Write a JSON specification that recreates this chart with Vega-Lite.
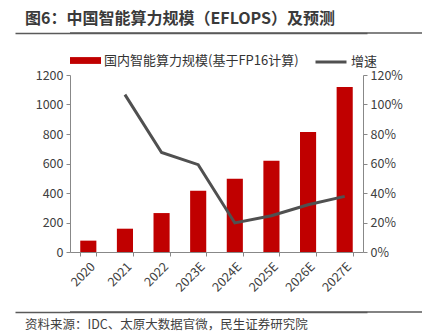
{
  "$schema": "https://vega.github.io/schema/vega-lite/v6.json",
  "padding": {"left": 15, "top": 11, "right": 0, "bottom": 0},
  "spacing": 11,
  "columns": 1,
  "align": "none",
  "config": {
    "view": {"stroke": null},
    "font": "Noto Sans CJK SC",
    "axis": {"labelFont": "Noto Sans CJK SC", "titleFont": "Noto Sans CJK SC"},
    "legend": {"labelFont": "Noto Sans CJK SC", "layout": {"top": {"anchor": "start", "direction": "horizontal", "margin": 15}}},
    "title": {"font": "Noto Sans CJK SC"}
  },
  "resolve": {
    "scale": {"x": "independent", "y": "independent", "fill": "independent", "stroke": "independent"},
    "legend": {"fill": "independent", "stroke": "independent"}
  },
  "concat": [
    {
      "width": 352,
      "height": 1,
      "title": {
        "text": "图6：中国智能算力规模（EFLOPS）及预测",
        "anchor": "start",
        "fontSize": 16,
        "fontWeight": "bold",
        "color": "#3a3a3a",
        "offset": 5,
        "dx": 10
      },
      "data": {"values": [{"hs": 0, "he": 1, "hy": 0}]},
      "mark": {"type": "rule", "color": "#5a5a5a", "strokeWidth": 1.5},
      "encoding": {
        "x": {"field": "hs", "type": "quantitative", "scale": {"domain": [0, 1], "nice": false},
              "axis": {"position": -55, "labels": false, "ticks": false, "grid": false, "title": null, "domainColor": "#5a5a5a", "domainWidth": 1.5}},
        "x2": {"field": "he"},
        "y": {"field": "hy", "type": "quantitative", "scale": {"domain": [0, 1], "nice": false}, "axis": null}
      }
    },
    {
      "width": 293,
      "height": 177,
      "data": {
        "values": [
          {"year": "2020", "scale": 77, "growth": null},
          {"year": "2021", "scale": 158, "growth": 1.067},
          {"year": "2022", "scale": 264, "growth": 0.675},
          {"year": "2023E", "scale": 416, "growth": 0.592},
          {"year": "2024E", "scale": 497, "growth": 0.197},
          {"year": "2025E", "scale": 619, "growth": 0.246},
          {"year": "2026E", "scale": 814, "growth": 0.32},
          {"year": "2027E", "scale": 1119, "growth": 0.377}
        ]
      },
      "encoding": {
        "x": {
          "field": "year",
          "type": "ordinal",
          "sort": null,
          "scale": {"paddingInner": 0.56, "paddingOuter": 0.28},
          "axis": {
            "title": null,
            "labelAngle": -45,
            "tickBand": "extent",
            "domainColor": "#888888",
            "tickColor": "#888888",
            "tickSize": 4,
            "labelFontSize": 12.5,
            "labelColor": "#404040",
            "labelPadding": 4,
            "minExtent": 48
          }
        }
      },
      "layer": [
        {
          "mark": {"type": "bar", "color": "#C00000"},
          "encoding": {
            "y": {
              "field": "scale",
              "type": "quantitative",
              "scale": {"domain": [0, 1200], "nice": false},
              "axis": {
                "title": null,
                "values": [0, 200, 400, 600, 800, 1000, 1200],
                "format": "d",
                "grid": false,
                "domainColor": "#888888",
                "tickColor": "#888888",
                "tickSize": 4,
                "labelFontSize": 12.5,
                "labelColor": "#404040",
                "labelPadding": 3,
                "minExtent": 55
              }
            },
            "fill": {
              "datum": "国内智能算力规模(基于FP16计算)",
              "scale": {"range": ["#C00000"]},
              "legend": {
                "orient": "top",
                "direction": "horizontal",
                "offset": 6,
                "title": null,
                "symbolType": "M-1,-0.22H1V0.22H-1Z",
                "symbolSize": 961,
                "symbolStrokeWidth": 0,
                "labelFontSize": 13,
                "labelColor": "#333333",
                "labelOffset": 3,
                "labelLimit": 400
              }
            }
          }
        },
        {
          "mark": {"type": "line", "color": "#505050", "strokeWidth": 3},
          "encoding": {
            "y": {
              "field": "growth",
              "type": "quantitative",
              "scale": {"domain": [0, 1.2], "nice": false},
              "axis": {
                "orient": "right",
                "title": null,
                "values": [0, 0.2, 0.4, 0.6, 0.8, 1.0, 1.2],
                "format": ".0%",
                "grid": false,
                "domainColor": "#888888",
                "tickColor": "#888888",
                "tickSize": 4,
                "labelFontSize": 12.5,
                "labelColor": "#404040",
                "labelPadding": 3
              }
            },
            "stroke": {
              "datum": "增速",
              "scale": {"range": ["#505050"]},
              "legend": {
                "orient": "top",
                "direction": "horizontal",
                "offset": 6,
                "title": null,
                "symbolType": "M-1,0H1",
                "symbolSize": 961,
                "symbolStrokeWidth": 3,
                "labelFontSize": 13,
                "labelColor": "#333333",
                "labelOffset": 3,
                "labelLimit": 400
              }
            }
          }
        }
      ],
      "resolve": {"scale": {"y": "independent"}}
    },
    {
      "width": 352,
      "height": 1,
      "title": {
        "text": "资料来源：IDC、太原大数据官微，民生证券研究院",
        "orient": "bottom",
        "anchor": "start",
        "fontSize": 12.5,
        "fontWeight": "normal",
        "color": "#404040",
        "offset": 6,
        "dx": 10
      },
      "data": {"values": [{"fs": 0, "fe": 1, "fy": 0}]},
      "mark": {"type": "rule", "color": "#5a5a5a", "strokeWidth": 1.5},
      "encoding": {
        "x": {"field": "fs", "type": "quantitative", "scale": {"domain": [0, 1], "nice": false},
              "axis": {"position": -55, "labels": false, "ticks": false, "grid": false, "title": null, "domainColor": "#5a5a5a", "domainWidth": 1.5}},
        "x2": {"field": "fe"},
        "y": {"field": "fy", "type": "quantitative", "scale": {"domain": [0, 1], "nice": false}, "axis": null}
      }
    }
  ]
}
